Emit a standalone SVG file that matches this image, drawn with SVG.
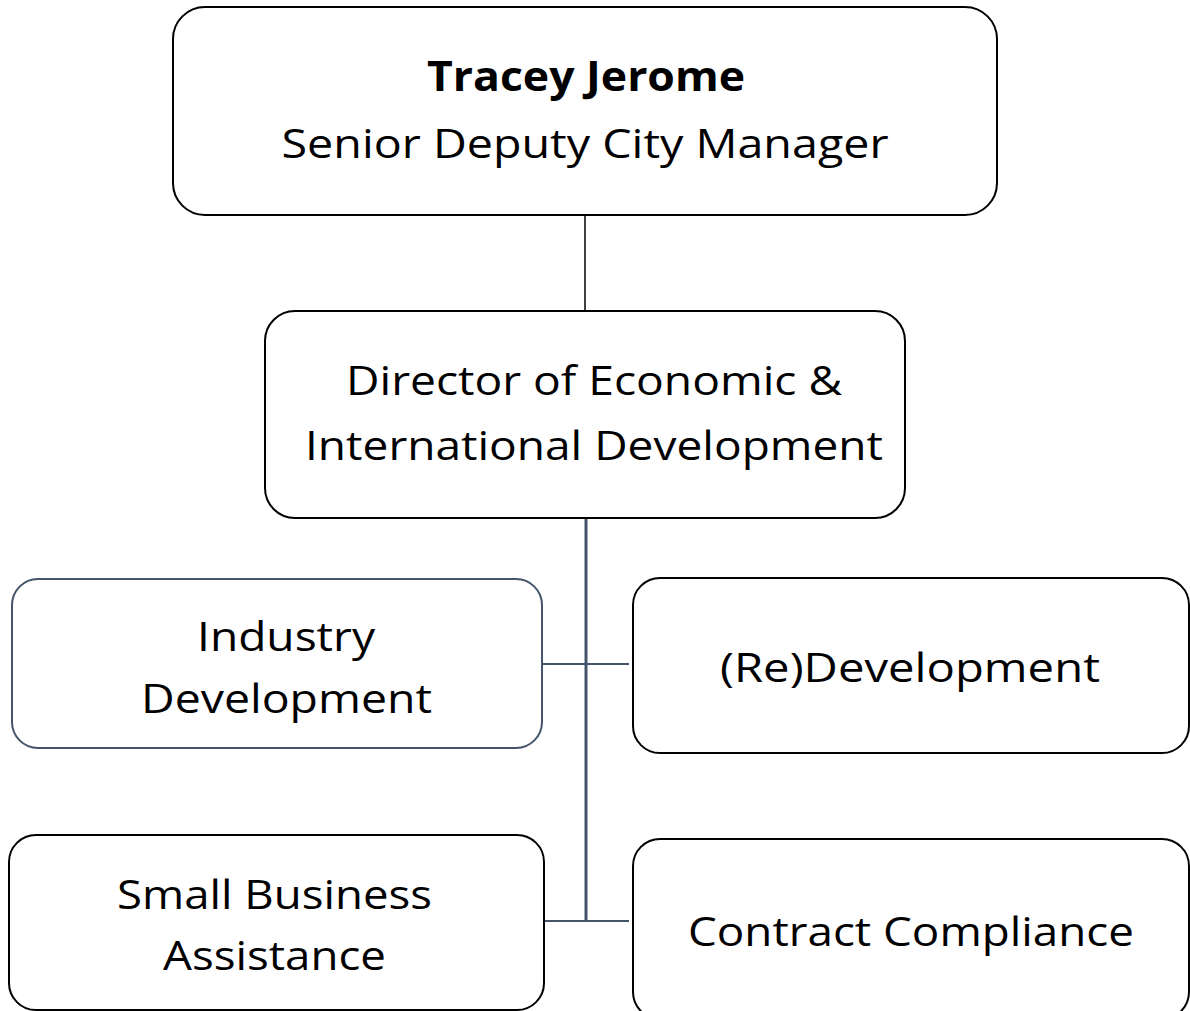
<svg xmlns="http://www.w3.org/2000/svg" width="1190" height="1011" viewBox="0 0 1190 1011">
<style>
.box{fill:#fff;stroke:#000;stroke-width:2}
.box2{fill:#fff;stroke:#44546a;stroke-width:2}
.t{font-family:"Open Sans","Noto Sans",sans-serif;font-size:41px;fill:#000;text-anchor:middle}
.b{font-weight:bold}
.c{stroke:#44546a;fill:none}
</style>
<rect width="1190" height="1011" fill="#fff"/>
<g id="connectors">
<line x1="585" y1="215" x2="585" y2="311" stroke="#000" stroke-width="1.5"/>
<line class="c" x1="586" y1="519" x2="586" y2="922" stroke-width="3"/>
<line class="c" x1="542" y1="664" x2="629" y2="664" stroke-width="2"/>
<line class="c" x1="544" y1="921" x2="629" y2="921" stroke-width="2"/>
</g>
<g id="node-tracey">
<rect class="box" x="173" y="7" width="824" height="208" rx="32"/>
<text class="t b" x="586" y="91" textLength="318" lengthAdjust="spacingAndGlyphs">Tracey Jerome</text>
<text class="t" x="585" y="158" textLength="607" lengthAdjust="spacingAndGlyphs">Senior Deputy City Manager</text>
</g>
<g id="node-director">
<rect class="box" x="265" y="311" width="640" height="207" rx="30"/>
<text class="t" x="594" y="395" textLength="496" lengthAdjust="spacingAndGlyphs">Director of Economic &amp;</text>
<text class="t" x="594" y="460" textLength="578" lengthAdjust="spacingAndGlyphs">International Development</text>
</g>
<g id="node-industry">
<rect class="box2" x="12" y="579" width="530" height="169" rx="26"/>
<text class="t" x="286" y="651" textLength="178" lengthAdjust="spacingAndGlyphs">Industry</text>
<text class="t" x="286.5" y="713" textLength="291" lengthAdjust="spacingAndGlyphs">Development</text>
</g>
<g id="node-redevelopment">
<rect class="box" x="633" y="578" width="556" height="175" rx="27"/>
<text class="t" x="910" y="682" textLength="380" lengthAdjust="spacingAndGlyphs">(Re)Development</text>
</g>
<g id="node-small-business">
<rect class="box" x="9" y="835" width="535" height="175" rx="27"/>
<text class="t" x="274.5" y="909" textLength="315" lengthAdjust="spacingAndGlyphs">Small Business</text>
<text class="t" x="274.5" y="970" textLength="223" lengthAdjust="spacingAndGlyphs">Assistance</text>
</g>
<g id="node-contract">
<rect class="box" x="633" y="839" width="556" height="180" rx="27"/>
<text class="t" x="911" y="946" textLength="446" lengthAdjust="spacingAndGlyphs">Contract Compliance</text>
</g>
</svg>
